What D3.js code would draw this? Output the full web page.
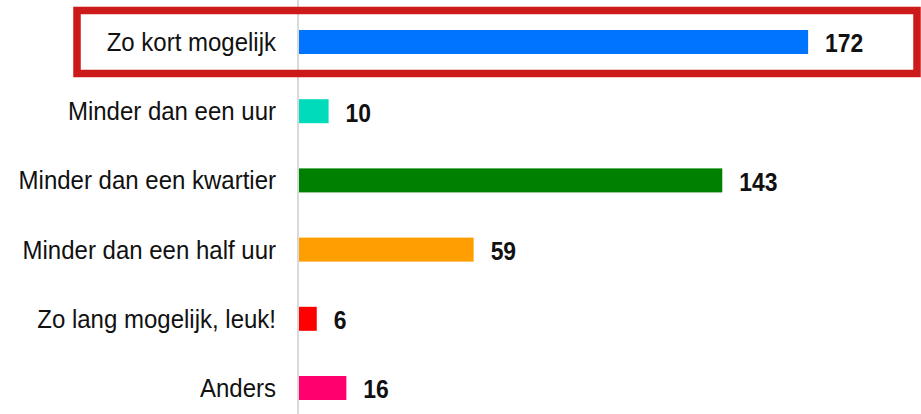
<!DOCTYPE html>
<html><head><meta charset="utf-8">
<script src="https://cdn.jsdelivr.net/npm/d3@7"></script>
<style>html,body{margin:0;padding:0;background:#fff;overflow:hidden}</style>
</head><body><svg id="c" width="921" height="414"></svg>
<script>
const categories = ["Zo kort mogelijk","Minder dan een uur","Minder dan een kwartier","Minder dan een half uur","Zo lang mogelijk, leuk!","Anders"];
const values = [172,10,143,59,6,16];
const colors = ["#0073ff","#00dcbb","#008000","#ff9e00","#ff0000","#ff006e"];
const highlighted = "Zo kort mogelijk";

const svg = d3.select("#c");
const x = d3.scaleLinear().domain([0,210]).range([299,299+2.96*210]);
const y = d3.scaleBand().domain(categories).range([-15.2,445.2]).paddingInner(0.653).paddingOuter(0.653);

// axis line
svg.append("line").attr("x1",298).attr("x2",298).attr("y1",0).attr("y2",414)
  .attr("stroke","#cccccc").attr("stroke-width",1.5);

svg.selectAll("rect.bar").data(categories).enter().append("rect")
  .attr("class","bar")
  .attr("x",x(0))
  .attr("y",d=>y(d))
  .attr("width",(d,i)=>x(values[i])-x(0))
  .attr("height",y.bandwidth())
  .attr("fill",(d,i)=>colors[i]);

svg.selectAll("text.cat").data(categories).enter().append("text")
  .attr("class","cat")
  .attr("transform",d=>`translate(276,${y(d)+y.bandwidth()/2}) scale(0.96,1)`)
  .attr("dy","0.36em").attr("text-anchor","end")
  .attr("font-family","Liberation Sans, Arial, sans-serif").attr("font-size",25)
  .attr("fill","#111").text(d=>d);

svg.selectAll("text.val").data(categories).enter().append("text")
  .attr("class","val")
  .attr("transform",(d,i)=>`translate(${x(values[i])+17},${y(d)+y.bandwidth()/2+1}) scale(0.88,1)`)
  .attr("dy","0.36em")
  .attr("font-family","Liberation Sans, Arial, sans-serif").attr("font-size",26).attr("font-weight","bold")
  .attr("fill","#111").text((d,i)=>values[i]);

// highlight box
const hy = y(highlighted)+y.bandwidth()/2;
svg.append("rect").attr("x",77).attr("y",hy-31.5).attr("width",840).attr("height",63)
  .attr("fill","none").attr("stroke","#cc1a1a").attr("stroke-width",7.5);
</script></body></html>
